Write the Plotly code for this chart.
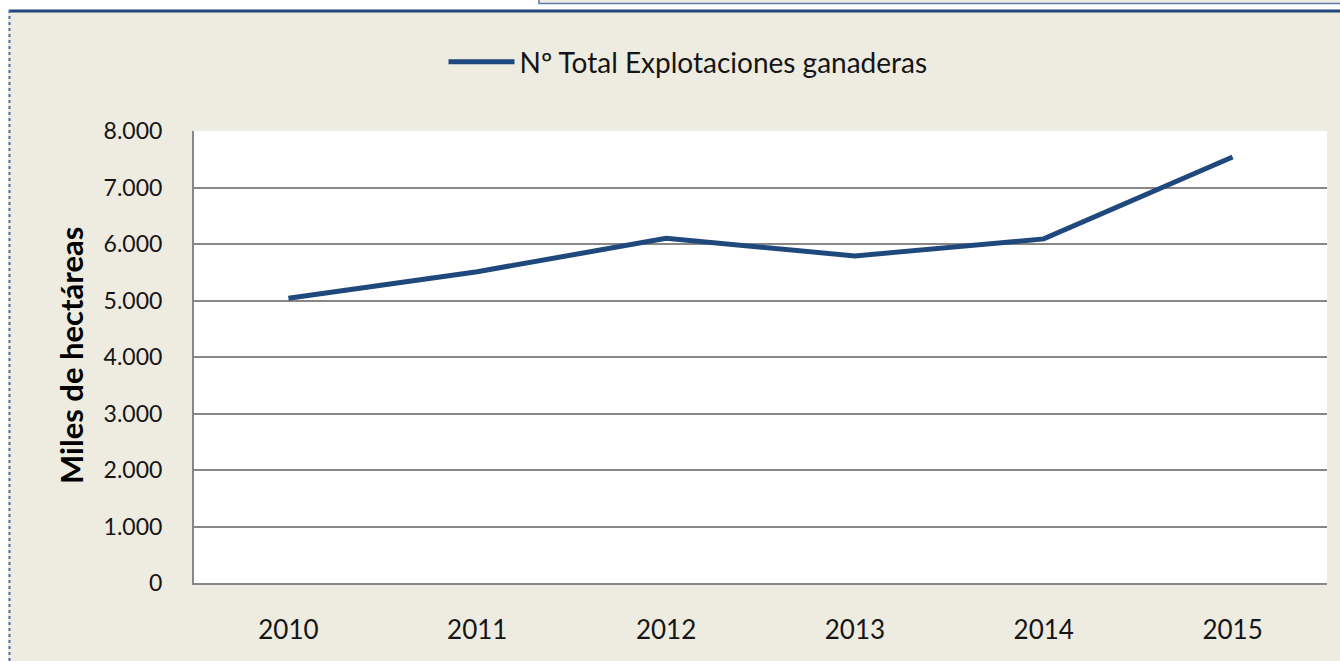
import plotly.graph_objects as go

years = ["2010", "2011", "2012", "2013", "2014", "2015"]
explotaciones = [5040, 5510, 6100, 5790, 6090, 7540]
y_ticks = [0, 1000, 2000, 3000, 4000, 5000, 6000, 7000, 8000]
series_name = "Nº Total Explotaciones ganaderas"
y_title = "Miles de hectáreas"

W, H = 1340, 661
L, R, T, B = 194, 13, 131, 78
pw, ph = W - L - R, H - T - B

def px(X):
    return (X - L) / pw

def py(Y):
    return (H - B - Y) / ph

FONT = "Lato, Roboto, sans-serif"
BEIGE = "#EEEBE0"
NAVY = "#1F497D"
TXT = "#151515"

fig = go.Figure()
fig.add_trace(go.Scatter(
    x=years, y=explotaciones, mode="lines", name=series_name,
    line=dict(color=NAVY, width=5),
))

shapes = [
    # white strips outside the chart frame
    dict(type="rect", xref="paper", yref="paper", x0=px(0), x1=px(W), y0=py(10), y1=py(0),
         fillcolor="white", line=dict(width=0), layer="above"),
    dict(type="rect", xref="paper", yref="paper", x0=px(0), x1=px(8), y0=py(H), y1=py(0),
         fillcolor="white", line=dict(width=0), layer="above"),
    # top partial box
    dict(type="rect", xref="paper", yref="paper", x0=px(539), x1=px(W + 2), y0=py(3.5), y1=py(-2),
         fillcolor=BEIGE, line=dict(color="#5C7AAE", width=1.5), layer="above"),
    # frame lines
    dict(type="line", xref="paper", yref="paper", x0=px(9), x1=px(W), y0=py(11), y1=py(11),
         line=dict(color=NAVY, width=3)),
    dict(type="line", xref="paper", yref="paper", x0=px(9.5), x1=px(9.5), y0=py(10), y1=py(H),
         line=dict(color="#4A6FB0", width=2, dash="dot")),
]

fig.update_layout(
    width=W, height=H,
    margin=dict(l=L, r=R, t=T, b=B, pad=0),
    paper_bgcolor=BEIGE, plot_bgcolor="white",
    separators=",.",
    font=dict(family=FONT, size=24, color=TXT),
    showlegend=True,
    legend=dict(orientation="h", x=px(688), xanchor="center", y=py(62), yanchor="middle",
                bgcolor="rgba(0,0,0,0)", font=dict(family=FONT, size=28, color=TXT),
                itemwidth=66),
    shapes=shapes,
    annotations=[dict(text="<b>" + y_title + "</b>", xref="paper", yref="paper",
                      x=px(71), y=py(356), textangle=-90, showarrow=False,
                      font=dict(family=FONT, size=31, color="black"),
                      xanchor="center", yanchor="middle")],
    xaxis=dict(type="category", range=[-0.5, 5.5], showgrid=False, showline=True,
               linecolor="#878787", linewidth=2, ticks="", ticklabelstandoff=23,
               tickfont=dict(family=FONT, size=26, color=TXT), zeroline=False),
    yaxis=dict(range=[0, 8000], tickvals=y_ticks, tickformat=",d", showgrid=True,
               gridcolor="#878787", gridwidth=2, showline=True, linecolor="#878787",
               linewidth=2, ticks="", ticklabelstandoff=25, zeroline=False,
               tickfont=dict(family=FONT, size=23, color=TXT)),
)

page_css = (
    "var s=document.createElement('style');"
    "s.textContent='html,body{margin:0;padding:0;overflow:hidden;scrollbar-width:none;}"
    "::-webkit-scrollbar{display:none;width:0;height:0;}';"
    "document.head.appendChild(s);"
)

fig.write_html(
    "out.html",
    config={"displayModeBar": False},
    post_script=page_css,
)
